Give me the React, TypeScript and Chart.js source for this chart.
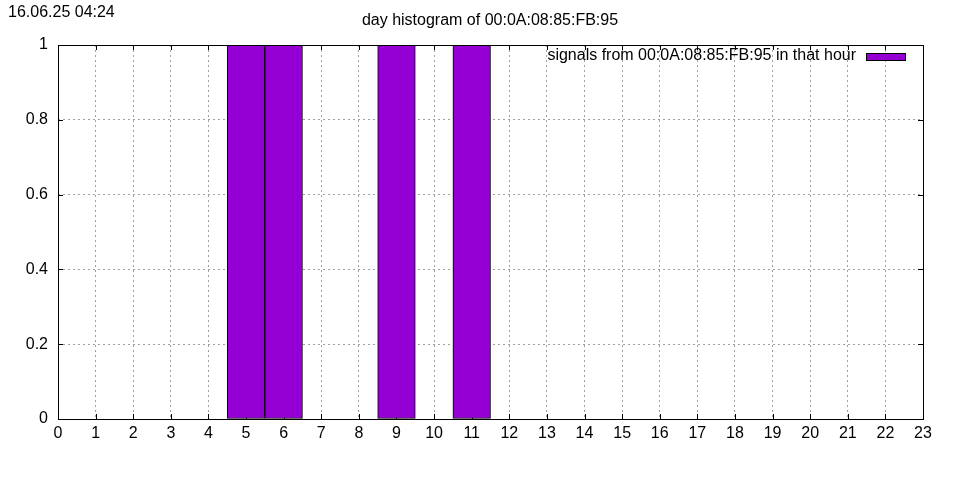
import React, { useEffect, useRef } from "react";
import { Chart, registerables } from "chart.js";

Chart.register(...registerables);

const HOURS: number[] = Array.from({ length: 24 }, (_, i) => i);
const COUNTS: number[] = [0, 0, 0, 0, 0, 1, 1, 0, 0, 1, 0, 1, 0, 0, 0, 0, 0, 0, 0, 0, 0, 0, 0, 0];
const Y_TICKS: number[] = [0, 0.2, 0.4, 0.6, 0.8, 1];
const TITLE = "day histogram of 00:0A:08:85:FB:95";
const STAMP = "16.06.25 04:24";
const LEGEND = "signals from 00:0A:08:85:FB:95 in that hour";

const FONT = "Liberation Sans, Arial, sans-serif";
const BAR = "#9400d3";

const framePlugin = {
  id: "gnuFrame",
  beforeDatasetsDraw(chart: any) {
    const { ctx, chartArea: a, scales } = chart;
    const xs = scales.x, ys = scales.y;
    ctx.save();
    ctx.strokeStyle = "#000";
    ctx.lineWidth = 1;
    ctx.beginPath();
    for (let h = 0; h <= 23; h++) {
      const px = Math.round(xs.getPixelForValue(h)) + 0.5;
      ctx.moveTo(px, a.bottom);
      ctx.lineTo(px, a.bottom - 5);
      ctx.moveTo(px, a.top);
      ctx.lineTo(px, a.top + 5);
    }
    for (const v of Y_TICKS) {
      const py = Math.round(ys.getPixelForValue(v)) + 0.5;
      ctx.moveTo(a.left, py);
      ctx.lineTo(a.left + 5, py);
      ctx.moveTo(a.right, py);
      ctx.lineTo(a.right - 5, py);
    }
    ctx.stroke();
    ctx.restore();
  },
  afterDatasetsDraw(chart: any) {
    const { ctx, chartArea: a } = chart;
    ctx.save();
    ctx.strokeStyle = "#000";
    ctx.lineWidth = 1;
    ctx.strokeRect(Math.round(a.left) + 0.5, Math.round(a.top) + 0.5, Math.round(a.right - a.left), Math.round(a.bottom - a.top));
    ctx.fillStyle = "#000";
    ctx.font = `16px ${FONT}`;
    ctx.textBaseline = "middle";
    ctx.textAlign = "left";
    ctx.fillText(STAMP, 8, 13);
    ctx.textAlign = "center";
    ctx.fillText(TITLE, 490, 21);
    ctx.textAlign = "right";
    ctx.fillText(LEGEND, 856, 56);
    ctx.fillStyle = BAR;
    ctx.fillRect(866, 54, 39, 6);
    ctx.strokeStyle = "#000";
    ctx.strokeRect(866.5, 53.5, 39, 7);
    ctx.restore();
  },
};

export default function App() {
  const ref = useRef<HTMLCanvasElement | null>(null);
  useEffect(() => {
    if (!ref.current) return;
    const chart = new Chart(ref.current, {
      type: "bar",
      data: {
        datasets: [
          {
            label: LEGEND,
            data: HOURS.map((h, i) => ({ x: h, y: COUNTS[i] })),
            backgroundColor: BAR,
            borderColor: "#000",
            borderWidth: 1,
            borderSkipped: false,
            barPercentage: 1,
            categoryPercentage: 1,
          } as any,
        ],
      },
      options: {
        animation: false,
        responsive: false,
        maintainAspectRatio: false,
        layout: { padding: { top: 45, right: 37, left: 0, bottom: 0 } },
        plugins: { legend: { display: false }, title: { display: false }, tooltip: { enabled: false } },
        scales: {
          x: {
            type: "linear",
            min: 0,
            max: 23,
            offset: false,
            afterFit: (s: any) => { s.height = 61; },
            ticks: { stepSize: 1, color: "#000", font: { family: FONT, size: 16 }, padding: 5, maxRotation: 0, autoSkip: false },
            grid: { offset: false, color: "#a0a0a0", lineWidth: 1, drawTicks: false },
            border: { display: false, dash: [2, 3] },
          } as any,
          y: {
            min: 0,
            max: 1,
            afterFit: (s: any) => { s.width = 58; },
            afterBuildTicks: (s: any) => { s.ticks = Y_TICKS.map((v) => ({ value: v })); },
            ticks: { color: "#000", font: { family: FONT, size: 16 }, padding: 10, callback: (v: any) => String(Math.round(v * 10) / 10) },
            grid: { color: "#a0a0a0", lineWidth: 1, drawTicks: false },
            border: { display: false, dash: [2, 3] },
          } as any,
        },
      },
      plugins: [framePlugin],
    });
    return () => chart.destroy();
  }, []);
  return (
    <div style={{ position: "fixed", left: 0, top: 0, width: 960, height: 480, background: "#fff" }}>
      <canvas ref={ref} width={960} height={480} style={{ width: 960, height: 480 }} />
    </div>
  );
}
